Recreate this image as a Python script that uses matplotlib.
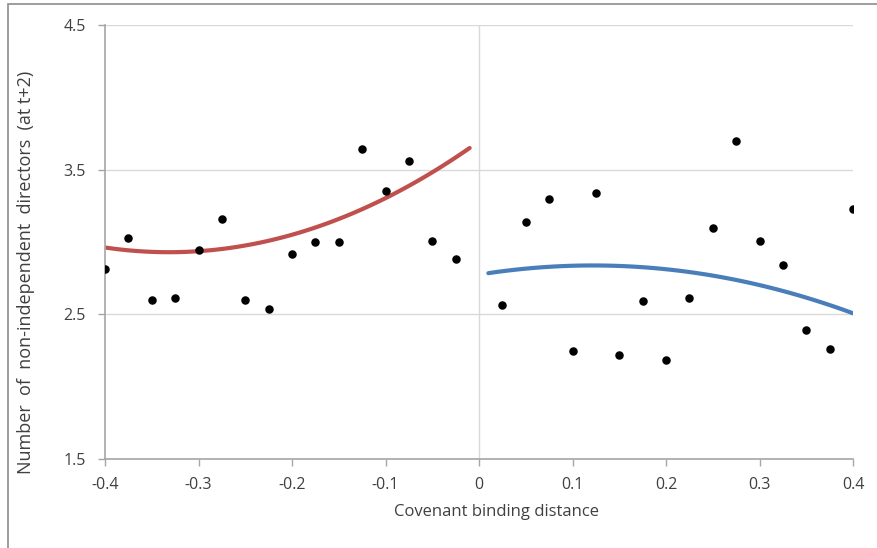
import numpy as np
import matplotlib.pyplot as plt
from matplotlib.patches import Rectangle

plt.rcParams['font.family'] = ['Open Sans', 'DejaVu Sans']

# binned scatter, left and right of the threshold
x_left = [-0.4, -0.375, -0.35, -0.325, -0.3, -0.275, -0.25, -0.225,
          -0.2, -0.175, -0.15, -0.125, -0.1, -0.075, -0.05, -0.025]
y_left = [2.81, 3.03, 2.60, 2.61, 2.945, 3.16, 2.60, 2.54,
          2.92, 3.00, 3.00, 3.64, 3.35, 3.56, 3.01, 2.88]
x_right = [0.025, 0.05, 0.075, 0.1, 0.125, 0.15, 0.175, 0.2,
           0.225, 0.25, 0.275, 0.3, 0.325, 0.35, 0.375, 0.4]
y_right = [2.565, 3.14, 3.30, 2.25, 3.34, 2.22, 2.59, 2.185,
           2.61, 3.10, 3.70, 3.01, 2.84, 2.39, 2.26, 3.23]

# quadratic trend lines (x, y)
trend_left_x = [-0.4, -0.35, -0.3, -0.25, -0.2, -0.15, -0.1, -0.05, -0.01]
trend_left_y = [2.96, 2.93, 2.94, 2.98, 3.05, 3.16, 3.30, 3.47, 3.66]
trend_right_x = [0.01, 0.05, 0.1, 0.15, 0.2, 0.25, 0.3, 0.35, 0.4]
trend_right_y = [2.79, 2.815, 2.83, 2.83, 2.81, 2.77, 2.71, 2.62, 2.50]

x_ticks = [-0.4, -0.3, -0.2, -0.1, 0, 0.1, 0.2, 0.3, 0.4]
x_tick_labels = ['-0.4', '-0.3', '-0.2', '-0.1', '0', '0.1', '0.2', '0.3', '0.4']
y_ticks = [1.5, 2.5, 3.5, 4.5]
y_tick_labels = ['1.5', '2.5', '3.5', '4.5']

fig = plt.figure(figsize=(8.77, 5.48), dpi=100)
ax = fig.add_axes([105/877, 1-459/548, 748/877, 434/548])

# outer frame like the exported chart area
fig.patches.append(Rectangle((8/877, -0.01), 1.0, 1-4/548 + 0.01, transform=fig.transFigure,
                             fill=False, edgecolor='#8c8c8c', linewidth=1.2))

ax.grid(axis='y', color='#d9d9d9', linewidth=1)
ax.axvline(0, color='#d9d9d9', linewidth=1, zorder=1)
ax.set_axisbelow(True)

# smooth trend lines (quadratic through the read points)
for tx, ty, col in [(trend_left_x, trend_left_y, '#c0504d'),
                    (trend_right_x, trend_right_y, '#4a7ebb')]:
    c = np.polyfit(tx, ty, 2)
    xs = np.linspace(tx[0], tx[-1], 100)
    ax.plot(xs, np.polyval(c, xs), color=col, linewidth=3, solid_capstyle='round', zorder=2)

ax.scatter(x_left, y_left, s=26, color='black', zorder=3)
ax.scatter(x_right, y_right, s=26, color='black', zorder=3)

ax.set_xlim(-0.4, 0.4)
ax.set_ylim(1.5, 4.5)
ax.set_xticks(x_ticks)
ax.set_xticklabels(x_tick_labels)
ax.set_yticks(y_ticks)
ax.set_yticklabels(y_tick_labels)

for s in ['top', 'right']:
    ax.spines[s].set_visible(False)
for s in ['left', 'bottom']:
    ax.spines[s].set_color('#a6a6a6')
    ax.spines[s].set_linewidth(1.2)
ax.tick_params(colors='#a6a6a6', labelcolor='#404040', labelsize=11.5, length=5, width=1)
ax.tick_params(axis='x', pad=8)
ax.tick_params(axis='y', pad=9)

ax.set_xlabel('Covenant binding distance', fontsize=12, color='#404040')
ax.xaxis.set_label_coords(0.524, -0.104)
ax.set_ylabel('Number  of  non-independent  directors  (at t+2)', fontsize=13,
              color='#404040')
ax.yaxis.set_label_coords(-0.094, 0.431)

fig.savefig('out.png', dpi=100)
